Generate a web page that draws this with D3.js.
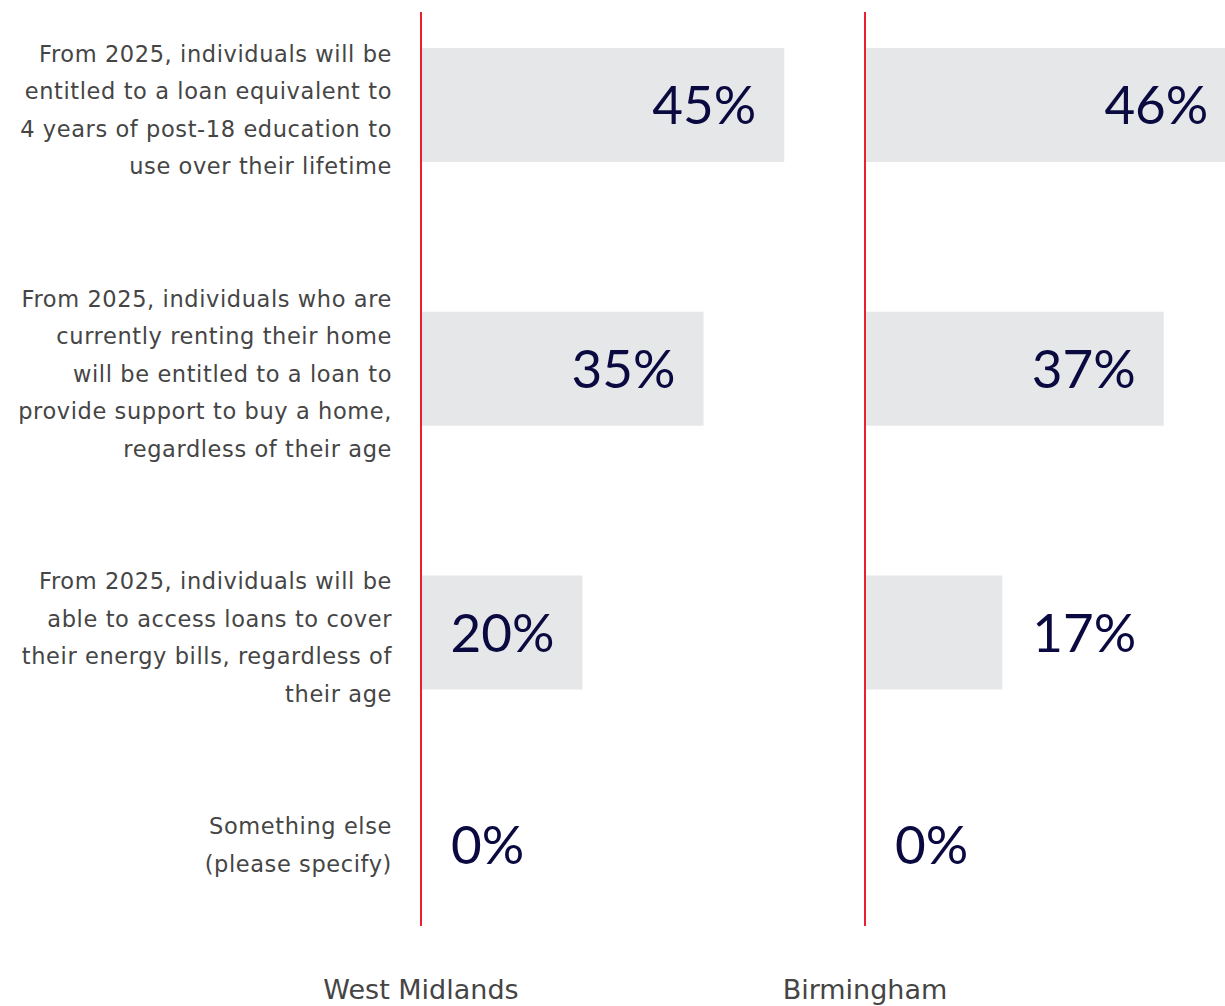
<!DOCTYPE html>
<html>
<head>
<meta charset="utf-8">
<script src="https://cdn.jsdelivr.net/npm/d3@7"></script>
<style>
  html, body { margin: 0; padding: 0; background: #fff; overflow: hidden; }
  svg { display: block; }
</style>
</head>
<body>
<svg id="chart" width="1225" height="1006"></svg>
<script>
// ---- data ----
const categories = [
  ["From 2025, individuals will be", "entitled to a loan equivalent to", "4 years of post-18 education to", "use over their lifetime"],
  ["From 2025, individuals who are", "currently renting their home", "will be entitled to a loan to", "provide support to buy a home,", "regardless of their age"],
  ["From 2025, individuals will be", "able to access loans to cover", "their energy bills, regardless of", "their age"],
  ["Something else", "(please specify)"]
];
const regions = ["West Midlands", "Birmingham"];
const westMidlands = [45, 35, 20, 0];
const birmingham = [46, 37, 17, 0];
const seriesValues = [westMidlands, birmingham];

// ---- layout ----
const lineH = 37.5, rowGap = 95, barH = 114;
const plotTop = 12, plotBottom = 926;
const rowTop = 30;
const labelFont = "'DejaVu Sans', 'Noto Sans', sans-serif";
const valueFont = "Lato, 'Noto Sans', sans-serif";

const svg = d3.select("#chart");

// row centres derived from the number of label lines
const heights = categories.map(c => c.length * lineH);
let acc = rowTop;
const centres = heights.map(h => { const c = acc + h / 2; acc += h + rowGap; return c; });
const yScale = d3.scaleOrdinal().domain(d3.range(categories.length)).range(centres);

// panel x scales
const panelX = d3.scaleBand().domain(regions).range([421, 421 + 2 * 444]);
const xScale = d3.scaleLinear().domain([0, 55]).range([0, 444]);

// category labels
const lab = svg.append("g");
categories.forEach((lines, i) => {
  const t = lab.append("text")
    .attr("x", 392)
    .attr("text-anchor", "end")
    .attr("font-family", labelFont)
    .attr("font-size", 22.5)
    .attr("letter-spacing", 0.6)
    .attr("fill", "#454545");
  const firstY = yScale(i) - (lines.length - 1) * lineH / 2;
  lines.forEach((ln, j) => {
    t.append("tspan").attr("x", 392).attr("y", firstY + j * lineH + 13).text(ln);
  });
});

// panels
regions.forEach((r, p) => {
  const x0 = panelX(r);
  const g = svg.append("g").attr("transform", `translate(${x0},0)`);
  const vals = seriesValues[p];
  g.selectAll("rect").data(vals).join("rect")
    .attr("x", 0)
    .attr("y", (d, i) => yScale(i) - barH / 2)
    .attr("width", d => xScale(d))
    .attr("height", d => d > 0 ? barH : 0)
    .attr("fill", "#e6e7e9");

  const pad = 28;
  vals.forEach((d, i) => {
    const t = g.append("text")
      .attr("y", yScale(i) + (d > 0 ? 0 : 5))
      .attr("dy", "0.36em")
      .attr("font-family", valueFont)
      .attr("font-size", 53)
      .attr("fill", "#0a0a40")
      .text(d + "%");
    const w = t.node().getComputedTextLength();
    const bw = xScale(d);
    if (w + 2 * pad <= bw) {
      t.attr("x", bw - pad).attr("text-anchor", "end");
    } else {
      t.attr("x", bw + 30).attr("text-anchor", "start");
    }
  });

  g.append("line")
    .attr("x1", 0).attr("x2", 0)
    .attr("y1", plotTop).attr("y2", plotBottom)
    .attr("stroke", "#e8202f").attr("stroke-width", 2);

  svg.append("text")
    .attr("x", x0)
    .attr("y", 999)
    .attr("text-anchor", "middle")
    .attr("font-family", labelFont)
    .attr("font-size", 27)
    .attr("fill", "#454545")
    .text(r);
});
</script>
</body>
</html>
